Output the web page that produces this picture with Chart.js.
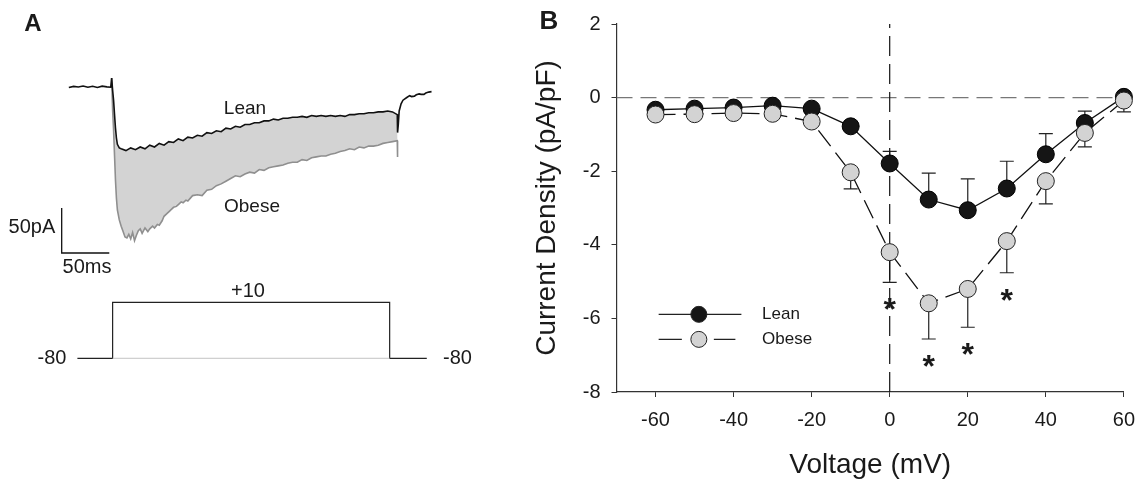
<!DOCTYPE html>
<html>
<head>
<meta charset="utf-8">
<script src="https://cdn.jsdelivr.net/npm/chart.js@4.4.1/dist/chart.umd.min.js"></script>
<style>
    html, body { margin: 0; padding: 0; background: #fff; }
    #wrap { position: relative; width: 1146px; height: 480px; }
    #panelA { position: absolute; left: 0; top: 0; }
    #panelB { position: absolute; left: 480px; top: 0; }
</style>
</head>
<body>
<div id="wrap">
    <canvas id="panelA" width="480" height="480"></canvas>
    <canvas id="panelB" width="666" height="480"></canvas>
</div>
<script>
// ---- Panel A: example current traces (ms, pA) ----
var leanT = [-45, -40, -35, -30, -25, -20, -15, -10, -5, -1, 0,
    1, 2, 3, 4, 5, 6, 8, 10, 15, 20, 25, 30, 35, 40, 45, 50, 55, 60, 65, 70, 75, 80, 85, 90, 95,
    100, 105, 110, 115, 120, 125, 130, 135, 140, 145, 150, 155, 160, 165, 170, 175, 180, 185, 190, 195,
    200, 205, 210, 215, 220, 225, 230, 235, 240, 245, 250, 255, 260, 265, 270, 275, 280, 285, 290, 295, 300,
    300.3, 301, 302, 304, 306, 310, 313, 315, 318, 320, 323, 325, 328, 330, 333, 336];
var leanI = [-0.9, 0.3, -0.4, 0.8, -0.6, 0.5, -0.8, 0.6, -0.2, -0.6, 9.7,
    -4, -15, -31, -46, -57, -64, -68, -69, -71, -68, -70, -67, -69, -65, -67, -63, -65, -61, -62, -58, -60, -56, -57, -54, -55,
    -51, -52, -49, -50, -46, -47, -44, -45, -42, -42, -40, -40, -38, -38, -36, -37, -35, -35, -34, -34,
    -33, -34, -32, -33, -32, -33, -32, -33, -32, -33, -31, -31, -30, -30, -29, -29, -28, -28, -27, -28, -31,
    -51, -43, -27, -19, -15, -12, -10, -11, -10.5, -9, -8, -8.5, -8.5, -7, -6, -5.5];

var obeseT = [0, 1, 2, 3, 4, 5, 6, 8, 10, 12, 14, 16, 18, 20, 22, 24, 26, 28, 30, 32, 35, 38, 40, 43, 45, 48,
    50, 53, 55, 58, 60, 63, 65, 68, 70, 73, 75, 78, 80, 85, 90, 95, 100, 105, 110, 115, 120, 125, 130, 135,
    140, 145, 150, 155, 160, 165, 170, 175, 180, 185, 190, 195, 200, 205, 210, 215, 220, 225, 230, 235,
    240, 245, 250, 255, 260, 265, 270, 275, 280, 285, 290, 295, 300, 300.3];
var obeseI = [9.7, -26, -48, -76, -104, -124, -137, -148, -155, -161, -167, -168, -164, -169, -162, -171, -165, -160, -158, -163, -157, -161, -158, -155, -157, -153,
    -154, -149, -144, -141, -139, -136, -134, -133, -131, -128, -129, -126, -127, -121, -120, -121, -115, -114, -110, -108, -105, -102, -99, -100,
    -97, -95, -96, -92, -93, -90, -89, -88, -87, -85, -84, -84, -81, -82, -79, -78, -77, -77, -75, -74,
    -72, -71, -69, -70, -67, -68, -66, -66, -65, -63, -62, -61, -60, -78];

// scale bars: 50 ms, 50 pA
var scaleBarT = [-52.5, -52.5, -2.5];
var scaleBarI = [-134.8, -184.8, -184.8];

// voltage protocol (mV)
var protoT = [-36, 1, 1, 292, 292, 331];
var protoV = [-80, -80, 10, 10, -80, -80];
var protoBaseT = [1, 292];
var protoBaseV = [-80, -80];

// ---- Panel B: I-V relationship ----
var voltages = [-60, -50, -40, -30, -20, -10, 0, 10, 20, 30, 40, 50, 60];
var leanMean = [-0.33, -0.30, -0.27, -0.22, -0.30, -0.78, -1.79, -2.77, -3.06, -2.47, -1.54, -0.69, 0.02];
var leanSem = [0.05, 0.05, 0.05, 0.05, 0.05, 0.08, 0.33, 0.72, 0.85, 0.74, 0.56, 0.32, 0.12];
var obeseMean = [-0.46, -0.45, -0.42, -0.44, -0.65, -2.03, -4.20, -5.59, -5.20, -3.90, -2.27, -0.96, -0.08];
var obeseSem = [0.05, 0.05, 0.05, 0.05, 0.10, 0.45, 0.82, 0.97, 1.04, 0.86, 0.62, 0.38, 0.31];
var significant = [0, 10, 20, 30];
var xTicks = [-60, -40, -20, 0, 20, 40, 60];

var FONT = "'Liberation Sans', Arial, Helvetica, sans-serif";
var INK = '#1a1a1a';

function pairs(xs, ys) {
    var out = [];
    for (var i = 0; i < xs.length; i++) {
        out.push({ x: xs[i], y: ys[i] });
    }
    return out;
}

// draws free text at data coordinates
var textLabels = {
    id: 'textLabels',
    afterDraw: function (chart, args, opts) {
        var ctx = chart.ctx;
        var items = opts.items || [];
        ctx.save();
        for (var i = 0; i < items.length; i++) {
            var it = items[i];
            var px = chart.scales.x.getPixelForValue(it.x);
            var py = chart.scales[it.axis || 'y'].getPixelForValue(it.y);
            ctx.font = (it.bold ? 'bold ' : '') + it.size + 'px ' + FONT;
            ctx.fillStyle = INK;
            ctx.textAlign = 'center';
            ctx.textBaseline = 'middle';
            ctx.fillText(it.text, px, py);
        }
        ctx.restore();
    }
};

new Chart(document.getElementById('panelA'), {
    type: 'line',
    data: {
        datasets: [{
            label: 'Lean',
            data: pairs(leanT, leanI),
            borderColor: '#111',
            borderWidth: 1.6,
            pointRadius: 0,
            order: 1
        }, {
            label: 'Obese',
            data: pairs(obeseT, obeseI),
            borderColor: '#8f8f8f',
            borderWidth: 1.6,
            pointRadius: 0,
            fill: '-1',
            backgroundColor: '#d3d3d3',
            order: 2
        }, {
            label: 'scale',
            data: pairs(scaleBarT, scaleBarI),
            borderColor: '#111',
            borderWidth: 1.3,
            pointRadius: 0
        }, {
            label: 'protocol base',
            data: pairs(protoBaseT, protoBaseV),
            yAxisID: 'yV',
            borderColor: '#c4c4c4',
            borderWidth: 1,
            pointRadius: 0
        }, {
            label: 'protocol',
            data: pairs(protoT, protoV),
            yAxisID: 'yV',
            borderColor: '#222',
            borderWidth: 1.2,
            pointRadius: 0
        }]
    },
    options: {
        responsive: false,
        animation: false,
        layout: { padding: 0 },
        elements: { line: { tension: 0 } },
        plugins: {
            legend: { display: false },
            tooltip: { enabled: false },
            textLabels: {
                items: [
                    { text: 'A', x: -82.7, y: 69.7, size: 24, bold: true },
                    { text: 'Lean', x: 140, y: -24.8, size: 19 },
                    { text: 'Obese', x: 147.4, y: -133.7, size: 19 },
                    { text: '50pA', x: -83.8, y: -155.9, size: 20 },
                    { text: '50ms', x: -25.9, y: -201.4, size: 20 },
                    { text: '+10', x: 143.2, y: 28, size: 20, axis: 'yV' },
                    { text: '-80', x: -62.7, y: -80, size: 20, axis: 'yV' },
                    { text: '-80', x: 363.2, y: -80, size: 20, axis: 'yV' }
                ]
            }
        },
        scales: {
            x: { type: 'linear', display: false, min: -117.3, max: 386.9 },
            y: { type: 'linear', display: false, min: -437, max: 96.33 },
            yV: { type: 'linear', display: false, min: -275.6, max: 495.8 }
        }
    },
    plugins: [textLabels]
});

// error bars, stars, legend and panel letter for B
var ivExtras = {
    id: 'ivExtras',
    beforeDatasetsDraw: function (chart) {
        var ctx = chart.ctx;
        var xs = chart.scales.x, ys = chart.scales.y;
        ctx.save();
        ctx.strokeStyle = '#222';
        ctx.lineWidth = 1.2;
        for (var i = 0; i < voltages.length; i++) {
            var px = xs.getPixelForValue(voltages[i]);
            var y0 = ys.getPixelForValue(leanMean[i]);
            var y1 = ys.getPixelForValue(leanMean[i] + leanSem[i]);
            var y2 = ys.getPixelForValue(obeseMean[i]);
            var y3 = ys.getPixelForValue(obeseMean[i] - obeseSem[i]);
            ctx.beginPath();
            ctx.moveTo(px, y0); ctx.lineTo(px, y1);
            ctx.moveTo(px - 7, y1); ctx.lineTo(px + 7, y1);
            ctx.moveTo(px, y2); ctx.lineTo(px, y3);
            ctx.moveTo(px - 7, y3); ctx.lineTo(px + 7, y3);
            ctx.stroke();
        }
        ctx.restore();
    },
    afterDatasetsDraw: function (chart) {
        var ctx = chart.ctx;
        var xs = chart.scales.x, ys = chart.scales.y;
        ctx.save();
        // significance stars below obese error bars
        ctx.fillStyle = INK;
        ctx.font = 'bold 32px ' + FONT;
        ctx.textAlign = 'center';
        ctx.textBaseline = 'alphabetic';
        for (var k = 0; k < significant.length; k++) {
            var idx = voltages.indexOf(significant[k]);
            var px = xs.getPixelForValue(voltages[idx]);
            var py = ys.getPixelForValue(obeseMean[idx] - obeseSem[idx]);
            ctx.fillText('*', px, py + 20 + 18);
        }

        // legend
        var lx0 = xs.getPixelForValue(-59.2);
        var lx1 = xs.getPixelForValue(-38);
        var mx = xs.getPixelForValue(-48.9);
        var tx = xs.getPixelForValue(-32.7);
        var ly = ys.getPixelForValue(-5.89);
        var oy = ys.getPixelForValue(-6.57);
        ctx.strokeStyle = '#222';
        ctx.lineWidth = 1.2;
        ctx.beginPath();
        ctx.moveTo(lx0, ly); ctx.lineTo(lx1, ly);
        ctx.moveTo(lx0, oy); ctx.lineTo(mx - 17, oy);
        ctx.moveTo(mx + 15, oy); ctx.lineTo(lx1 - 6, oy);
        ctx.stroke();
        ctx.lineWidth = 1;
        ctx.beginPath();
        ctx.arc(mx, ly, 8, 0, Math.PI * 2);
        ctx.fillStyle = '#151515';
        ctx.fill();
        ctx.stroke();
        ctx.beginPath();
        ctx.arc(mx, oy, 8, 0, Math.PI * 2);
        ctx.fillStyle = '#d3d3d3';
        ctx.fill();
        ctx.stroke();
        ctx.fillStyle = INK;
        ctx.font = '17px ' + FONT;
        ctx.textAlign = 'left';
        ctx.textBaseline = 'middle';
        ctx.fillText('Lean', tx, ly);
        ctx.fillText('Obese', tx, oy);

        // panel letter
        ctx.font = 'bold 26px ' + FONT;
        ctx.textAlign = 'center';
        ctx.fillText('B', 69, 22);
        ctx.restore();
    }
};

new Chart(document.getElementById('panelB'), {
    type: 'line',
    data: {
        datasets: [{
            label: 'zero',
            data: [{ x: -70, y: 0 }, { x: 60, y: 0 }],
            borderColor: '#777',
            borderWidth: 1.2,
            borderDash: [16, 8],
            pointRadius: 0,
            order: 5
        }, {
            label: 'reversal',
            data: [{ x: 0, y: -8 }, { x: 0, y: 2 }],
            borderColor: '#111',
            borderWidth: 1.2,
            borderDash: [20, 8],
            pointRadius: 0,
            order: 4
        }, {
            label: 'Lean',
            data: pairs(voltages, leanMean),
            borderColor: '#111',
            borderWidth: 1.3,
            pointRadius: 8.5,
            pointBackgroundColor: '#151515',
            pointBorderColor: '#000',
            pointBorderWidth: 1,
            clip: false,
            order: 2
        }, {
            label: 'Obese',
            data: pairs(voltages, obeseMean),
            borderColor: '#111',
            borderWidth: 1.3,
            borderDash: [20, 8],
            pointRadius: 8.5,
            pointBackgroundColor: '#d3d3d3',
            pointBorderColor: '#222',
            pointBorderWidth: 1,
            clip: false,
            order: 1
        }]
    },
    options: {
        responsive: false,
        animation: false,
        layout: { padding: { left: 48, right: 15.5, top: 24, bottom: 0 } },
        elements: { line: { tension: 0 } },
        plugins: {
            legend: { display: false },
            tooltip: { enabled: false }
        },
        scales: {
            x: {
                type: 'linear',
                min: -70,
                max: 60,
                afterBuildTicks: function (s) {
                    s.ticks = xTicks.map(function (v) { return { value: v }; });
                },
                afterFit: function (s) { s.height = 88; },
                grid: { drawOnChartArea: false, drawTicks: true, tickLength: 5, color: '#333' },
                border: { color: '#333', width: 1.2 },
                ticks: { color: INK, padding: 11, maxRotation: 0, font: { family: FONT, size: 20 } },
                title: {
                    display: true,
                    text: 'Voltage (mV)',
                    color: INK,
                    padding: { top: 0, bottom: 1 },
                    font: { family: FONT, size: 28, lineHeight: 1 }
                }
            },
            y: {
                type: 'linear',
                min: -8,
                max: 2,
                afterFit: function (s) { s.width = 88.5; },
                grid: { drawOnChartArea: false, drawTicks: true, tickLength: 5, color: '#333' },
                border: { color: '#333', width: 1.2 },
                ticks: { stepSize: 2, color: INK, padding: 11, font: { family: FONT, size: 20 } },
                title: {
                    display: true,
                    text: 'Current Density (pA/pF)',
                    color: INK,
                    padding: { top: 5, bottom: 0 },
                    font: { family: FONT, size: 28, lineHeight: 1 }
                }
            }
        }
    },
    plugins: [ivExtras]
});
</script>
</body>
</html>
